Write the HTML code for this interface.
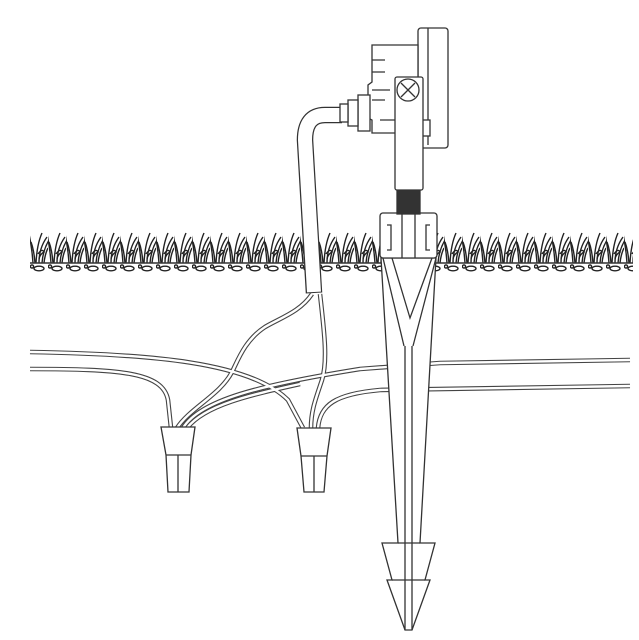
<!DOCTYPE html>
<html><head><style>html,body{margin:0;padding:0;background:#fff}svg{display:block}</style></head>
<body>
<svg width="639" height="640" viewBox="0 0 639 640" xmlns="http://www.w3.org/2000/svg">
<defs>
<pattern id="grass" x="30" y="230" width="18" height="45" patternUnits="userSpaceOnUse">
<g fill="none" stroke="#222" stroke-width="1.4">
<path d="M3 33 Q2 18 -1 4"/><path d="M6 33 Q7 14 12 3"/><path d="M9 33 Q9 18 17 7"/>
<path d="M5 33 Q4 20 1 12"/><path d="M8 24 Q12 18 14 22 Q10 24 9 29"/><path d="M12 33 Q13 20 19 10"/>
<path d="M14 33 Q15 24 18 18"/>
<ellipse cx="9" cy="38.5" rx="5" ry="2.3"/><circle cx="2" cy="36.5" r="1.6"/>
</g>
</pattern>
</defs>
<rect x="30" y="230" width="603" height="45" fill="url(#grass)"/>
<line x1="30" y1="263" x2="633" y2="263" stroke="#333" stroke-width="1.6"/>
<g fill="none" stroke-linecap="butt">
<g stroke="#444" stroke-width="4.6">
<path id="w1" d="M30 352 C150 354 250 362 288 400 L303 428"/>
<path id="w2" d="M30 369 C120 369 163 372 168 400 L171 428"/>
<path id="w3" d="M312 294 C300 312 280 318 265 327 C245 340 238 360 232 372 C220 395 190 408 177 428"/>
<path id="w4" d="M320 294 C324 330 328 360 322 380 C316 398 311 410 311 428"/>
<path id="w5" d="M183 428 C200 400 260 385 360 369 L440 363 L630 360"/>
<path id="w6" d="M318 428 C320 405 335 394 380 390 L630 386"/>
<path id="w7" d="M187 428 C205 405 250 395 300 384"/>
</g>
<g stroke="#fff" stroke-width="2.4">
<use href="#w1"/><use href="#w2"/><use href="#w3"/><use href="#w4"/><use href="#w5"/><use href="#w6"/><use href="#w7"/>
</g>
</g>
<!-- cable -->
<path d="M342 115 L325 115 Q305 115 305 140 L314 293" fill="none" stroke="#333" stroke-width="16.5"/>
<path d="M342 115 L325 115 Q305 115 305 140 L314 292" fill="none" stroke="#fff" stroke-width="14"/>
<g fill="#fff" stroke="#333" stroke-width="1.3">
<path d="M161 427 L195 427 L191 455 L189 492 L168 492 L166 455 Z"/>
<path d="M166 455 L191 455 M178 455 L178 492"/>
<path d="M297 428 L331 428 L327 456 L324 492 L304 492 L301 456 Z"/>
<path d="M301 456 L327 456 M314 456 L314 492"/>
<path d="M381 258 L398 543 L382 543 L392 580 L387 580 L405 630 L412 630 L430 580 L425 580 L435 543 L420 543 L436 258 Z"/>
<path d="M392 258 L432 258 L410 318 Z M383 258 L404 346 M436 258 L413 346"/>
<path d="M405 346 L405 630 M412 346 L412 630 M398 543 L420 543 M392 580 L425 580"/>
<rect x="380" y="213" width="57" height="45" rx="3"/>
<path d="M387 225 L391 225 L391 250 L387 250 M430 225 L426 225 L426 250 L430 250 M402 213 L402 258 M415 213 L415 258"/>
<rect x="397" y="190" width="23" height="24" fill="#333"/>
<rect x="418" y="28" width="30" height="120" rx="3"/>
<line x1="428" y1="28" x2="428" y2="145"/>
<path d="M372 45 L418 45 L418 133 L372 133 L372 120 L368 118 L368 85 L372 82 Z"/>
<path d="M372 60 L385 60 M372 72 L385 72 M372 90 L390 90 M372 100 L385 100 M380 120 L395 120"/>
<rect x="418" y="120" width="12" height="16"/>
<rect x="395" y="77" width="28" height="113" rx="2"/>
<circle cx="408" cy="90" r="11"/>
<path d="M401 83 L415 97 M415 83 L401 97"/>
<rect x="358" y="95" width="12" height="36"/>
<rect x="348" y="100" width="10" height="26"/>
<rect x="340" y="104" width="8" height="18"/>
</g>
</svg>
</body></html>
